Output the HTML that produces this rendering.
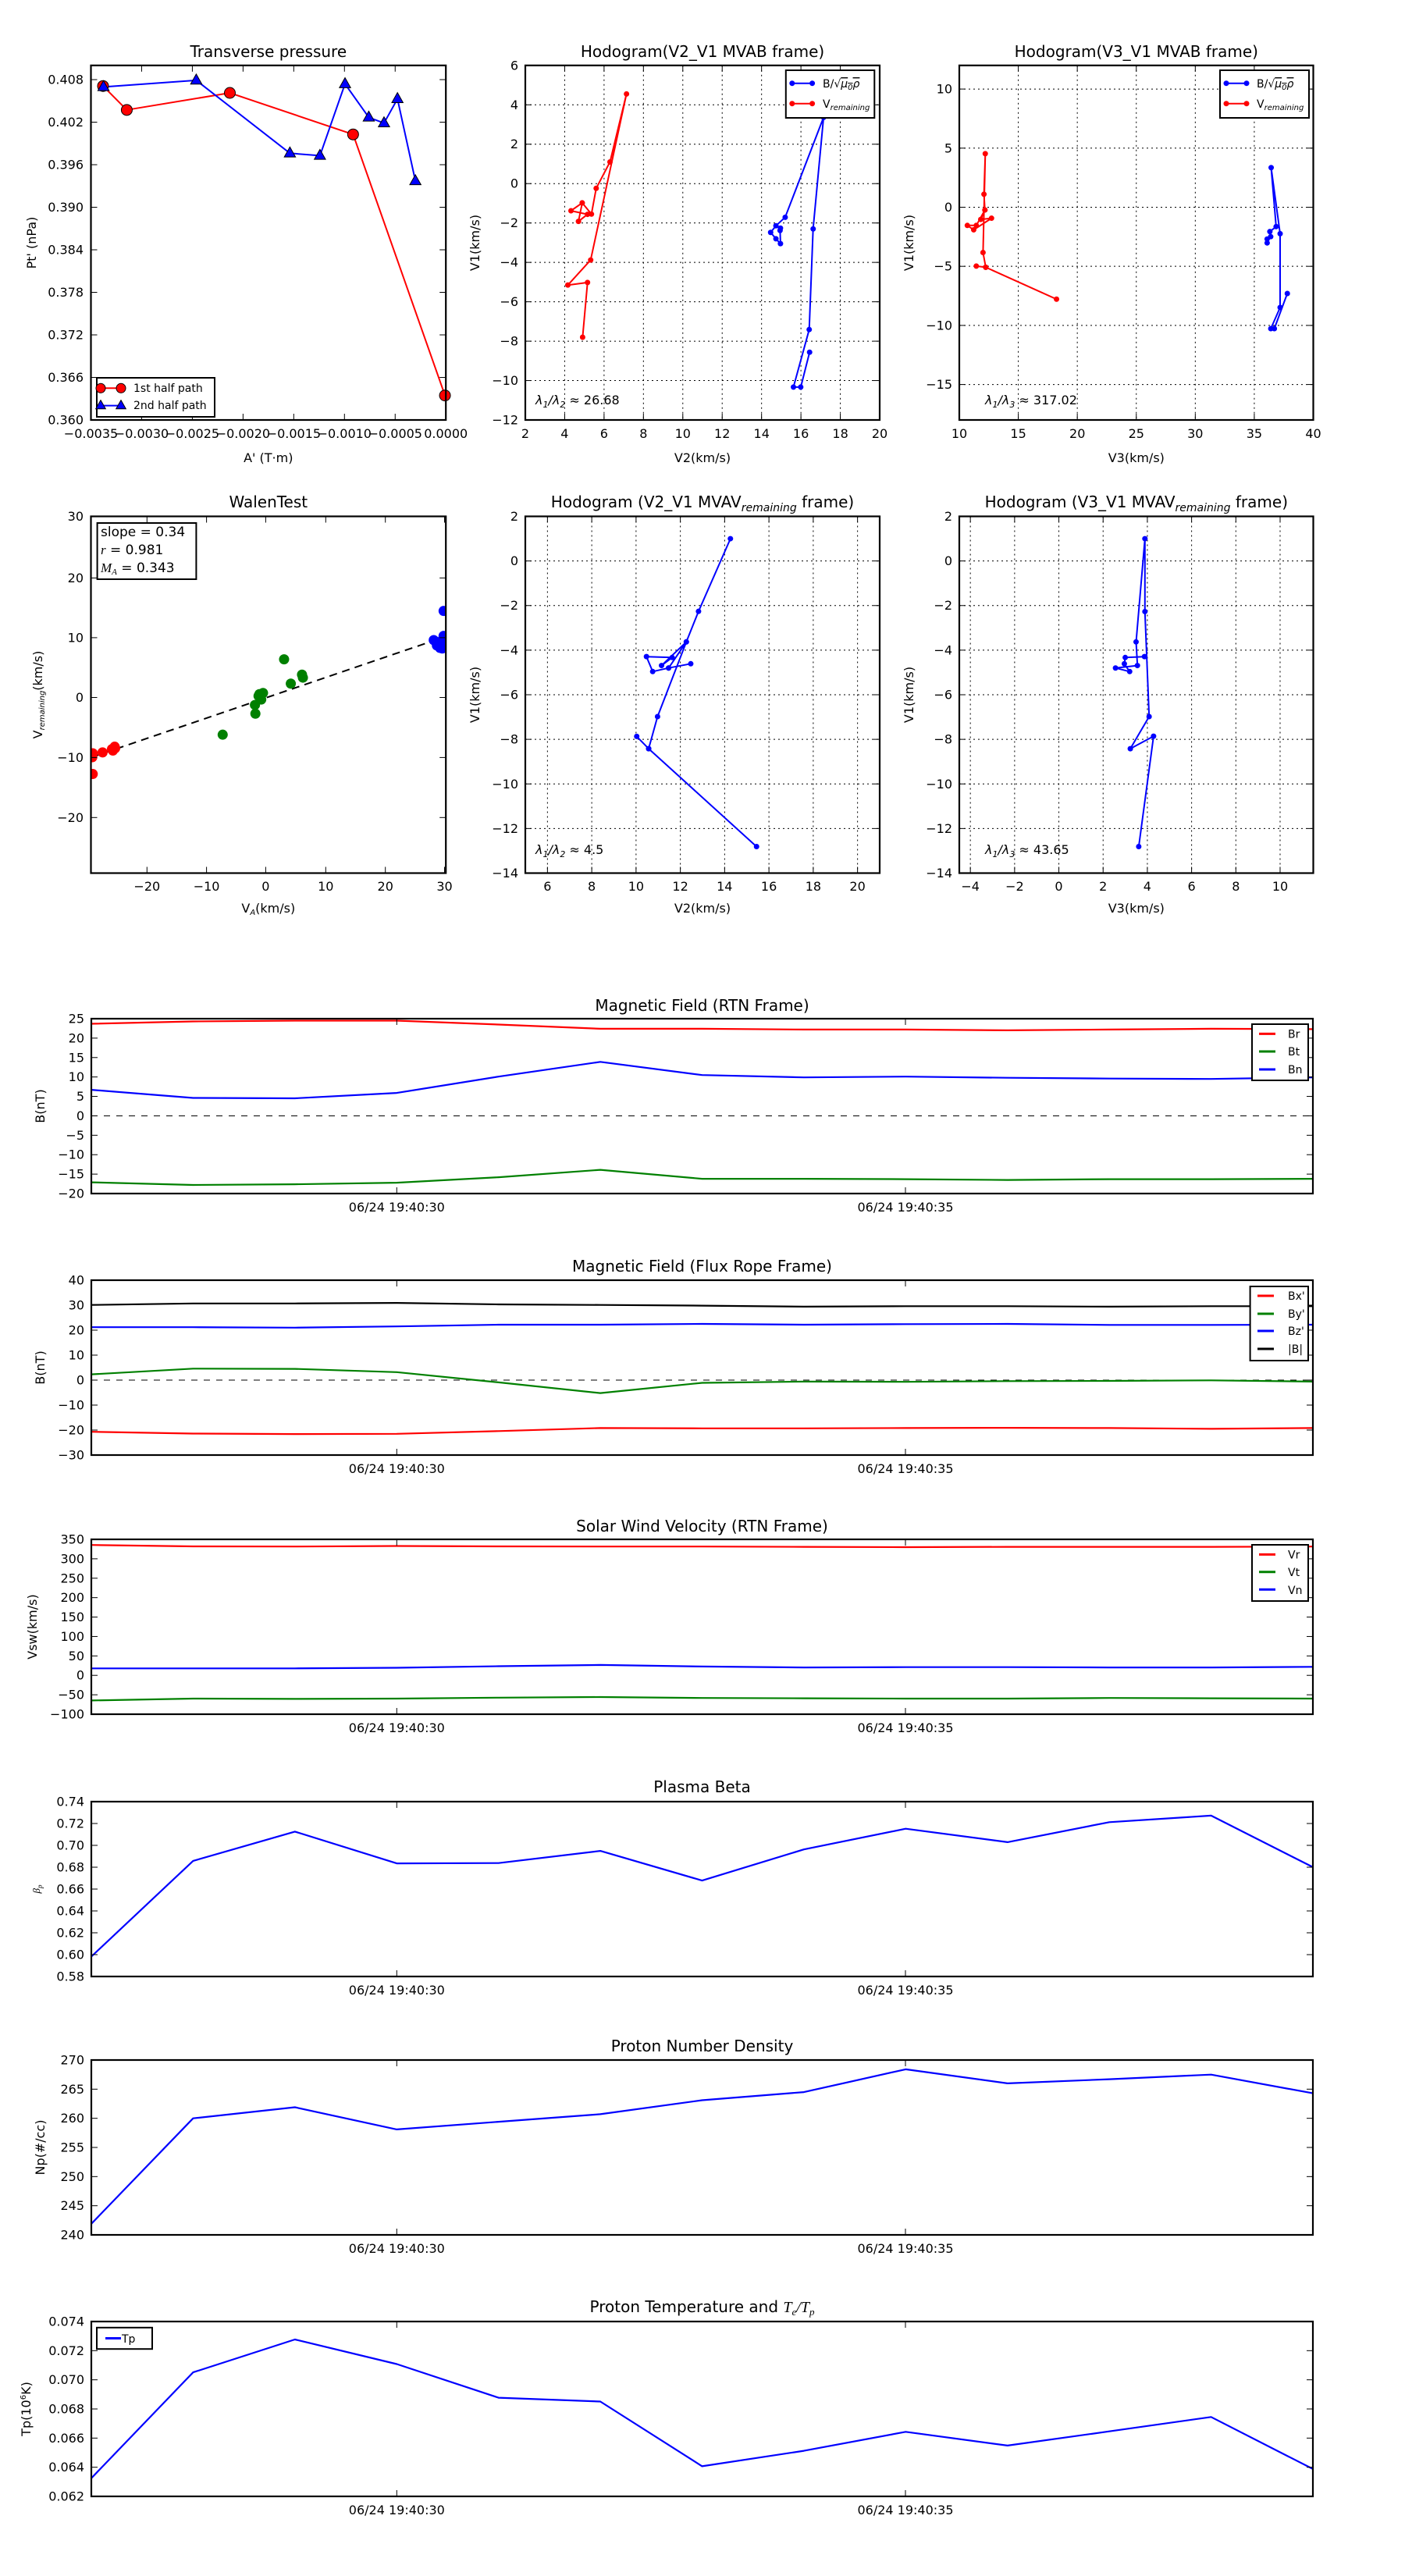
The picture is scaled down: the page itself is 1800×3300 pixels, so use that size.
<!DOCTYPE html>
<html><head><meta charset="utf-8"><style>
html,body{margin:0;padding:0;background:#fff;}
svg{display:block;font-family:"DejaVu Sans","Liberation Sans",sans-serif;}
.t{font-size:20px;text-anchor:middle;}
.l{font-size:16px;}
.e{text-anchor:end;}
.m{text-anchor:middle;}
.lg{font-size:14px;}
</style></head><body>
<svg id="s" width="1800" height="3300" viewBox="0 0 1800 3300" xmlns="http://www.w3.org/2000/svg">
<rect width="1800" height="3300" fill="#fff"/>
<g id="data"></g>

<!-- ===== Plot 1 ===== -->
<text class="t" x="343.8" y="73">Transverse pressure</text>
<g class="l e">
<text x="107" y="543.5">0.360</text><text x="107" y="489">0.366</text><text x="107" y="434.5">0.372</text>
<text x="107" y="380">0.378</text><text x="107" y="325.5">0.384</text><text x="107" y="271">0.390</text>
<text x="107" y="216.5">0.396</text><text x="107" y="162">0.402</text><text x="107" y="107.5">0.408</text>
</g>
<g class="l m">
<text x="116.5" y="561">−0.0035</text><text x="181.5" y="561">−0.0030</text><text x="246.4" y="561">−0.0025</text>
<text x="311.4" y="561">−0.0020</text><text x="376.4" y="561">−0.0015</text><text x="441.3" y="561">−0.0010</text>
<text x="506.3" y="561">−0.0005</text><text x="571.2" y="561">0.0000</text>
<text x="343.8" y="592">A' (T·m)</text>
</g>
<text class="l m" transform="translate(46,311) rotate(-90)">Pt' (nPa)</text>
<rect x="124" y="484" width="151" height="50" fill="#fff" stroke="#000" stroke-width="2"/>
<text class="lg" x="171" y="502">1st half path</text>
<text class="lg" x="171" y="524">2nd half path</text>

<!-- ===== Plot 2 ===== -->
<text class="t" x="900" y="73">Hodogram(V2_V1 MVAB frame)</text>
<g class="l e">
<text x="664" y="89.3">6</text><text x="664" y="139.8">4</text><text x="664" y="190.2">2</text><text x="664" y="240.7">0</text>
<text x="664" y="291.2">−2</text><text x="664" y="341.6">−4</text><text x="664" y="392.1">−6</text><text x="664" y="442.6">−8</text>
<text x="664" y="493">−10</text><text x="664" y="543.5">−12</text>
</g>
<g class="l m">
<text x="673" y="561">2</text><text x="723.4" y="561">4</text><text x="773.9" y="561">6</text><text x="824.3" y="561">8</text>
<text x="874.8" y="561">10</text><text x="925.2" y="561">12</text><text x="975.7" y="561">14</text><text x="1026.1" y="561">16</text>
<text x="1076.6" y="561">18</text><text x="1127" y="561">20</text>
<text x="900" y="592">V2(km/s)</text>
</g>
<text class="l m" transform="translate(614,311) rotate(-90)">V1(km/s)</text>
<text class="l" x="686" y="518" font-style="italic">λ<tspan font-size="11" dy="4">1</tspan><tspan dy="-4">/λ</tspan><tspan font-size="11" dy="4">2</tspan><tspan dy="-4" font-style="normal"> ≈ 26.68</tspan></text>
<rect x="1006.8" y="90" width="113.5" height="61" fill="#fff" stroke="#000" stroke-width="2"/>
<text class="lg" x="1054" y="112">B/√<tspan text-decoration="overline" font-style="italic">μ<tspan font-size="10" dy="3">0</tspan><tspan dy="-3">ρ</tspan></tspan></text>
<text class="lg" x="1054" y="138">V<tspan font-size="10" dy="3" font-style="italic">remaining</tspan></text>

<!-- ===== Plot 3 ===== -->
<text class="t" x="1455.8" y="73">Hodogram(V3_V1 MVAB frame)</text>
<g class="l e">
<text x="1220" y="119.6">10</text><text x="1220" y="195.3">5</text><text x="1220" y="271">0</text>
<text x="1220" y="346.7">−5</text><text x="1220" y="422.4">−10</text><text x="1220" y="498.1">−15</text>
</g>
<g class="l m">
<text x="1229" y="561">10</text><text x="1304.6" y="561">15</text><text x="1380.2" y="561">20</text><text x="1455.8" y="561">25</text>
<text x="1531.3" y="561">30</text><text x="1606.9" y="561">35</text><text x="1682.5" y="561">40</text>
<text x="1455.8" y="592">V3(km/s)</text>
</g>
<text class="l m" transform="translate(1170,311) rotate(-90)">V1(km/s)</text>
<text class="l" x="1262" y="518" font-style="italic">λ<tspan font-size="11" dy="4">1</tspan><tspan dy="-4">/λ</tspan><tspan font-size="11" dy="4">3</tspan><tspan dy="-4" font-style="normal"> ≈ 317.02</tspan></text>
<rect x="1563" y="90" width="114" height="61" fill="#fff" stroke="#000" stroke-width="2"/>
<text class="lg" x="1610" y="112">B/√<tspan text-decoration="overline" font-style="italic">μ<tspan font-size="10" dy="3">0</tspan><tspan dy="-3">ρ</tspan></tspan></text>
<text class="lg" x="1610" y="138">V<tspan font-size="10" dy="3" font-style="italic">remaining</tspan></text>

<!-- ===== Plot 4 Walen ===== -->
<text class="t" x="343.8" y="650">WalenTest</text>
<g class="l e">
<text x="107" y="667">30</text><text x="107" y="745.9">20</text><text x="107" y="822.4">10</text>
<text x="107" y="899">0</text><text x="107" y="975.9">−10</text><text x="107" y="1052.8">−20</text>
</g>
<g class="l m">
<text x="188.3" y="1141">−20</text><text x="264.6" y="1141">−10</text><text x="340.4" y="1141">0</text>
<text x="417.3" y="1141">10</text><text x="493.7" y="1141">20</text><text x="569.5" y="1141">30</text>
<text x="343.8" y="1169">V<tspan font-size="10" dy="3" font-style="italic">A</tspan><tspan dy="-3">(km/s)</tspan></text>
</g>
<text class="l m" transform="translate(54,890) rotate(-90)">V<tspan font-size="10" dy="3" font-style="italic">remaining</tspan><tspan dy="-3">(km/s)</tspan></text>
<rect x="124.6" y="670" width="126.8" height="72" fill="#fff" stroke="#000" stroke-width="2"/>
<g font-size="17px">
<text x="129" y="687">slope = 0.34</text>
<text x="129" y="710"><tspan font-style="italic" font-family="Liberation Serif, serif">r</tspan> = 0.981</text>
<text x="129" y="733"><tspan font-style="italic" font-family="Liberation Serif, serif">M<tspan font-size="11" dy="3">A</tspan></tspan><tspan dy="-3"> = 0.343</tspan></text>
</g>

<!-- ===== Plot 5 ===== -->
<text class="t" x="900" y="650">Hodogram (V2_V1 MVAV<tspan font-size="14" dy="5" font-style="italic">remaining</tspan><tspan dy="-5"> frame)</tspan></text>
<g class="l e">
<text x="664" y="667">2</text><text x="664" y="724.1">0</text><text x="664" y="781.2">−2</text><text x="664" y="838.4">−4</text>
<text x="664" y="895.5">−6</text><text x="664" y="952.6">−8</text><text x="664" y="1009.8">−10</text><text x="664" y="1066.9">−12</text>
<text x="664" y="1124">−14</text>
</g>
<g class="l m">
<text x="701.4" y="1141">6</text><text x="758.1" y="1141">8</text><text x="814.9" y="1141">10</text><text x="871.6" y="1141">12</text>
<text x="928.3" y="1141">14</text><text x="985.1" y="1141">16</text><text x="1041.9" y="1141">18</text><text x="1098.6" y="1141">20</text>
<text x="900" y="1169">V2(km/s)</text>
</g>
<text class="l m" transform="translate(614,890) rotate(-90)">V1(km/s)</text>
<text class="l" x="686" y="1094" font-style="italic">λ<tspan font-size="11" dy="4">1</tspan><tspan dy="-4">/λ</tspan><tspan font-size="11" dy="4">2</tspan><tspan dy="-4" font-style="normal"> ≈ 4.5</tspan></text>

<!-- ===== Plot 6 ===== -->
<text class="t" x="1455.8" y="650">Hodogram (V3_V1 MVAV<tspan font-size="14" dy="5" font-style="italic">remaining</tspan><tspan dy="-5"> frame)</tspan></text>
<g class="l e">
<text x="1220" y="667">2</text><text x="1220" y="724.1">0</text><text x="1220" y="781.2">−2</text><text x="1220" y="838.4">−4</text>
<text x="1220" y="895.5">−6</text><text x="1220" y="952.6">−8</text><text x="1220" y="1009.8">−10</text><text x="1220" y="1066.9">−12</text>
<text x="1220" y="1124">−14</text>
</g>
<g class="l m">
<text x="1243.2" y="1141">−4</text><text x="1299.9" y="1141">−2</text><text x="1356.5" y="1141">0</text><text x="1413.2" y="1141">2</text>
<text x="1469.9" y="1141">4</text><text x="1526.6" y="1141">6</text><text x="1583.3" y="1141">8</text><text x="1640" y="1141">10</text>
<text x="1455.8" y="1169">V3(km/s)</text>
</g>
<text class="l m" transform="translate(1170,890) rotate(-90)">V1(km/s)</text>
<text class="l" x="1262" y="1094" font-style="italic">λ<tspan font-size="11" dy="4">1</tspan><tspan dy="-4">/λ</tspan><tspan font-size="11" dy="4">3</tspan><tspan dy="-4" font-style="normal"> ≈ 43.65</tspan></text>

<!-- ===== Time panels ===== -->
<g transform="translate(117,1305)">
<text class="t" x="782.5" y="-10">Magnetic Field (RTN Frame)</text>
<g class="l e">
<text x="-9" y="5.5">25</text><text x="-9" y="30.4">20</text><text x="-9" y="55.3">15</text><text x="-9" y="80.2">10</text>
<text x="-9" y="105.1">5</text><text x="-9" y="129.9">0</text><text x="-9" y="154.8">−5</text><text x="-9" y="179.7">−10</text>
<text x="-9" y="204.6">−15</text><text x="-9" y="229.5">−20</text>
</g>
<g class="l m"><text x="391.3" y="247">06/24 19:40:30</text><text x="1043" y="247">06/24 19:40:35</text></g>
<text class="l m" transform="translate(-60,112) rotate(-90)">B(nT)</text>
<rect x="1487" y="7" width="72" height="72" fill="#fff" stroke="#000" stroke-width="2"/>
<g class="lg"><text x="1533" y="24.5">Br</text><text x="1533" y="47">Bt</text><text x="1533" y="70">Bn</text></g>
</g>
<g transform="translate(117,1640)">
<text class="t" x="782.5" y="-11">Magnetic Field (Flux Rope Frame)</text>
<g class="l e">
<text x="-9" y="5.5">40</text><text x="-9" y="37.5">30</text><text x="-9" y="69.5">20</text><text x="-9" y="101.5">10</text>
<text x="-9" y="133.5">0</text><text x="-9" y="165.5">−10</text><text x="-9" y="197.5">−20</text><text x="-9" y="229.5">−30</text>
</g>
<g class="l m"><text x="391.3" y="247">06/24 19:40:30</text><text x="1043" y="247">06/24 19:40:35</text></g>
<text class="l m" transform="translate(-60,112) rotate(-90)">B(nT)</text>
<rect x="1484.6" y="8" width="74.4" height="95" fill="#fff" stroke="#000" stroke-width="2"/>
<g class="lg"><text x="1533" y="25">Bx'</text><text x="1533" y="48">By'</text><text x="1533" y="70">Bz'</text><text x="1533" y="93">|B|</text></g>
</g>
<g transform="translate(117,1972)">
<text class="t" x="782.5" y="-10">Solar Wind Velocity (RTN Frame)</text>
<g class="l e">
<text x="-9" y="5.5">350</text><text x="-9" y="30.4">300</text><text x="-9" y="55.3">250</text><text x="-9" y="80.2">200</text>
<text x="-9" y="105.1">150</text><text x="-9" y="129.9">100</text><text x="-9" y="154.8">50</text><text x="-9" y="179.7">0</text>
<text x="-9" y="204.6">−50</text><text x="-9" y="229.5">−100</text>
</g>
<g class="l m"><text x="391.3" y="247">06/24 19:40:30</text><text x="1043" y="247">06/24 19:40:35</text></g>
<text class="l m" transform="translate(-70,112) rotate(-90)">Vsw(km/s)</text>
<rect x="1487" y="7" width="72" height="72" fill="#fff" stroke="#000" stroke-width="2"/>
<g class="lg"><text x="1533" y="24.5">Vr</text><text x="1533" y="47">Vt</text><text x="1533" y="70">Vn</text></g>
</g>
<g transform="translate(117,2308)">
<text class="t" x="782.5" y="-12">Plasma Beta</text>
<g class="l e">
<text x="-9" y="5.5">0.74</text><text x="-9" y="33.5">0.72</text><text x="-9" y="61.5">0.70</text><text x="-9" y="89.5">0.68</text>
<text x="-9" y="117.5">0.66</text><text x="-9" y="145.5">0.64</text><text x="-9" y="173.5">0.62</text><text x="-9" y="201.5">0.60</text>
<text x="-9" y="229.5">0.58</text>
</g>
<g class="l m"><text x="391.3" y="247">06/24 19:40:30</text><text x="1043" y="247">06/24 19:40:35</text></g>
<text class="m" font-size="13" font-style="italic" font-family="Liberation Serif, serif" transform="translate(-66,112) rotate(-90)">β<tspan font-size="9" dy="3">p</tspan></text>
</g>
<g transform="translate(117,2639)">
<text class="t" x="782.5" y="-11">Proton Number Density</text>
<g class="l e">
<text x="-9" y="5.5">270</text><text x="-9" y="42.8">265</text><text x="-9" y="80.2">260</text><text x="-9" y="117.5">255</text>
<text x="-9" y="154.8">250</text><text x="-9" y="192.2">245</text><text x="-9" y="229.5">240</text>
</g>
<g class="l m"><text x="391.3" y="247">06/24 19:40:30</text><text x="1043" y="247">06/24 19:40:35</text></g>
<text class="l m" transform="translate(-60,112) rotate(-90)">Np(#/cc)</text>
</g>
<g transform="translate(117,2974)">
<text class="t" x="782.5" y="-12">Proton Temperature and <tspan font-style="italic" font-family="Liberation Serif, serif">T<tspan font-size="13" dy="4">e</tspan><tspan dy="-4">/T</tspan><tspan font-size="13" dy="4">p</tspan></tspan></text>
<g class="l e">
<text x="-9" y="5.5">0.074</text><text x="-9" y="42.8">0.072</text><text x="-9" y="80.2">0.070</text><text x="-9" y="117.5">0.068</text>
<text x="-9" y="154.8">0.066</text><text x="-9" y="192.2">0.064</text><text x="-9" y="229.5">0.062</text>
</g>
<g class="l m"><text x="391.3" y="247">06/24 19:40:30</text><text x="1043" y="247">06/24 19:40:35</text></g>
<text class="l m" transform="translate(-78,112) rotate(-90)">Tp(10<tspan font-size="10" dy="-6">6</tspan><tspan dy="6">K)</tspan></text>
<rect x="7" y="7.8" width="71" height="27.4" fill="#fff" stroke="#000" stroke-width="2"/>
<text class="lg" x="39" y="27">Tp</text>
</g>
<g id="top"></g>
</svg>
<script>
(function(){
var NS="http://www.w3.org/2000/svg";var G=document.getElementById('data');
function el(n,a,p){var e=document.createElementNS(NS,n);for(var k in a)e.setAttribute(k,a[k]);(p||G).appendChild(e);return e;}
function line(pts,c,w,extra){var a={points:pts.map(function(p){return p[0].toFixed(1)+','+p[1].toFixed(1)}).join(' '),fill:'none',stroke:c,'stroke-width':w||2,'stroke-linejoin':'round'};for(var k in extra)a[k]=extra[k];return el('polyline',a);}
function dots(pts,c,r,st){pts.forEach(function(p){el('circle',{cx:p[0],cy:p[1],r:r,fill:c,stroke:st||'none','stroke-width':1});});}
function tri(pts,c,s){pts.forEach(function(p){var x=p[0],y=p[1];el('polygon',{points:(x)+','+(y-s)+' '+(x-s*0.9)+','+(y+s*0.6)+' '+(x+s*0.9)+','+(y+s*0.6),fill:c,stroke:'#000','stroke-width':1});});}
function lin(a0,a1,b0,b1){return function(v){return b0+(v-a0)/(a1-a0)*(b1-b0);};}
function box(x0,y0,x1,y1,xt,yt,grid){
  if(grid){xt.forEach(function(x){el('line',{x1:x,y1:y0,x2:x,y2:y1,stroke:'#000','stroke-width':1,'stroke-dasharray':'2,4'});});
           yt.forEach(function(y){el('line',{x1:x0,y1:y,x2:x1,y2:y,stroke:'#000','stroke-width':1,'stroke-dasharray':'2,4'});});}
}
function frame(x0,y0,x1,y1,xt,yt){
  xt.forEach(function(x){el('line',{x1:x,y1:y1,x2:x,y2:y1-8,stroke:'#000','stroke-width':1});el('line',{x1:x,y1:y0,x2:x,y2:y0+8,stroke:'#000','stroke-width':1});});
  yt.forEach(function(y){el('line',{x1:x0,y1:y,x2:x0+8,y2:y,stroke:'#000','stroke-width':1});el('line',{x1:x1,y1:y,x2:x1-8,y2:y,stroke:'#000','stroke-width':1});});
  el('rect',{x:x0,y:y0,width:x1-x0,height:y1-y0,fill:'none',stroke:'#000','stroke-width':2.2});
}
function rng(a,b,s){var r=[];for(var v=a;v<=b+1e-9;v+=s)r.push(v);return r;}
function M(a,fx,fy){return a.map(function(p){return[fx(p[0]),fy(p[1])];});}

/* Plot 1 */
var fx=lin(203,995,116.5,571.2),fy=lin(218,1405,83.8,538);
var red=[[230,287],[283,367],[513,310],[788,449],[993,1323]].map(function(p){return[fx(p[0]),fy(p[1])];});
var blu=[[231,290],[438,268],[647,512],[714,520],[770,280],[823,392],[857,411],[887,330],[927,605]].map(function(p){return[fx(p[0]),fy(p[1])];});
line(red,'#f00',2);line(blu,'#00f',2);dots(red,'#f00',7,'#000');tri(blu,'#00f',8);
frame(116.5,83.8,571.2,538,rng(0,7,1).map(function(i){return 116.5+i*64.96;}),[538,483.5,429,374.5,320,265.5,211,156.5,102]);

/* Plot 2 */
var p2x=lin(2,20,673,1127),p2y=lin(6,-12,83.8,538);
var xt2=rng(2,20,2).map(p2x),yt2=rng(-12,6,2).map(p2y);
box(673,83.8,1127,538,xt2,yt2,true);
var r2=M([[4.91,-7.8],[5.16,-5.02],[4.16,-5.15],[5.32,-3.88],[7.14,4.55],[6.3,1.1],[5.6,-0.24],[5.36,-1.55],[4.89,-0.98],[4.32,-1.38],[5.16,-1.56],[4.7,-1.92],[4.89,-0.98]],p2x,p2y);
var b2=M([[14.96,-2.26],[14.94,-2.38],[14.96,-3.05],[14.73,-2.8],[14.46,-2.48],[14.73,-2.14],[15.2,-1.71],[17.15,3.36],[16.62,-2.3],[16.42,-7.41],[15.62,-10.33],[15.99,-10.33],[16.44,-8.56]],p2x,p2y);
line(r2,'#f00',2);dots(r2,'#f00',3.5);line(b2,'#00f',2);dots(b2,'#00f',3.5);
frame(673,83.8,1127,538,xt2,yt2);

/* Plot 3 */
var p3x=lin(10,40,1229,1682.5),p3y=lin(12,-18,83.8,538);
var xt3=rng(10,40,5).map(p3x),yt3=rng(-15,10,5).map(p3y);
box(1229,83.8,1682.5,538,xt3,yt3,true);
var r3=M([[18.24,-7.78],[12.24,-5.08],[11.44,-4.98],[12.24,-5.08],[12.01,-3.83],[12.2,4.53],[12.09,1.1],[12.17,-0.23],[11.82,-1.03],[12.73,-0.93],[11.22,-1.91],[10.68,-1.54],[11.44,-1.54],[12.17,-0.23]],p3x,p3y);
var b3=M([[36.09,-3.02],[36.09,-2.69],[36.39,-2.49],[36.32,-2.06],[36.85,-1.64],[36.43,3.35],[37.19,-2.24],[37.19,-8.48],[36.4,-10.27],[36.7,-10.27],[37.8,-7.3]],p3x,p3y);
line(r3,'#f00',2);dots(r3,'#f00',3.5);line(b3,'#00f',2);dots(b3,'#00f',3.5);
frame(1229,83.8,1682.5,538,xt3,yt3);

/* Plot 4 Walen */
var wx=lin(203,995,116.5,571.2),wy=lin(160,1348,661.5,1118.5);
var cp=el('clipPath',{id:'cw'});el('rect',{x:116.5,y:661.5,width:454.7,height:457},cp);
var wg=el('g',{'clip-path':'url(#cw)'});
el('line',{x1:wx(203),y1:wy(963),x2:wx(995),y2:wy(560),stroke:'#000','stroke-width':2,'stroke-dasharray':'10,7'},wg);
function wd(a,c){a.forEach(function(p){el('circle',{cx:wx(p[0]),cy:wy(p[1]),r:6.5,fill:c},wg);});}
wd([[207,949],[206,962],[207,1018],[229,946],[250,935],[256,927],[252,940],[257,932]],'#f00');
wd([[634,636],[674,687],[676,697],[649,717],[587,748],[577,758],[583,770],[569,788],[570,817],[497,887],[579,752]],'#008000');
wd([[968,572],[990,475],[990,558],[975,590],[982,598],[987,600],[977,585],[985,575]],'#00f');
frame(116.5,661.5,571.2,1118.5,[188.3,264.6,340.4,417.3,493.7,569.5],[661.5,740.4,816.9,893.5,970.4,1047.3]);

/* Plot 5 */
var p5x=lin(5,21,673,1127),p5y=lin(2,-14,661.5,1118.5);
var xt5=rng(6,20,2).map(p5x),yt5=rng(-14,2,2).map(p5y);
box(673,661.5,1127,1118.5,xt5,yt5,true);
var b5=M([[14.26,1.0],[12.82,-2.26],[12.27,-3.63],[11.15,-4.69],[11.63,-4.33],[10.47,-4.29],[10.75,-4.96],[11.47,-4.8],[12.47,-4.61],[11.47,-4.8],[12.27,-3.63],[10.97,-6.98],[10.57,-8.42],[10.03,-7.87],[10.57,-8.42],[15.44,-12.81]],p5x,p5y);
line(b5,'#00f',2);dots(b5,'#00f',3.5);
frame(673,661.5,1127,1118.5,xt5,yt5);

/* Plot 6 */
var p6x=lin(-4.5,11.5,1229,1682.5),p6y=p5y;
var xt6=rng(-4,10,2).map(p6x),yt6=yt5;
box(1229,661.5,1682.5,1118.5,xt6,yt6,true);
var b6=M([[3.87,-4.29],[3.0,-4.33],[2.96,-4.61],[3.2,-4.96],[2.56,-4.8],[3.55,-4.69],[3.49,-3.63],[3.89,1.0],[3.89,-2.27],[4.08,-6.98],[3.23,-8.42],[4.28,-7.86],[3.61,-12.81]],p6x,p6y);
line(b6,'#00f',2);dots(b6,'#00f',3.5);
frame(1229,661.5,1682.5,1118.5,xt6,yt6);

/* Time panels */
var X0=117,W=1565,H=224,XT=[X0+391.3,X0+1043];
function panel(T,ymin,ymax,ticks,series,zero){
  var fy=lin(ymax,ymin,T,T+H);
  if(zero)el('line',{x1:X0,y1:fy(0),x2:X0+W,y2:fy(0),stroke:'#000','stroke-width':1,'stroke-dasharray':'8,8'});
  series.forEach(function(s){line(s[1].map(function(v,i){return[X0+i*W/12,fy(v)];}),s[0],2.2);});
  frame(X0,T,X0+W,T+H,XT,ticks.map(fy));
}
panel(1305,-20,25,rng(-20,25,5),[
 ['#f00',[23.7,24.3,24.5,24.5,23.5,22.4,22.4,22.2,22.2,22.0,22.2,22.4,22.3]],
 ['#008000',[-17.1,-17.8,-17.6,-17.2,-15.8,-13.9,-16.2,-16.2,-16.3,-16.5,-16.3,-16.3,-16.2]],
 ['#00f',[6.7,4.6,4.5,5.9,10.1,13.9,10.5,9.9,10.1,9.8,9.6,9.5,9.9]]],true);
panel(1640,-30,40,rng(-30,40,10),[
 ['#f00',[-20.7,-21.4,-21.6,-21.5,-20.4,-19.2,-19.3,-19.3,-19.2,-19.1,-19.2,-19.5,-19.2]],
 ['#008000',[2.3,4.6,4.5,3.2,-0.9,-5.2,-1.1,-0.6,-0.7,-0.4,-0.3,-0.1,-0.6]],
 ['#00f',[21.2,21.2,21.0,21.5,22.2,22.2,22.5,22.2,22.4,22.5,22.1,22.1,22.2]],
 ['#000',[30.1,30.7,30.7,30.9,30.3,30.1,29.8,29.4,29.6,29.6,29.4,29.6,29.6]]],true);
panel(1972,-100,350,rng(-100,350,50),[
 ['#f00',[335.6,332,331.6,333,332,331.6,331.6,330.8,330,330.8,330.8,330.8,331.6]],
 ['#008000',[-64.7,-59.9,-60.7,-59.9,-57.5,-55.9,-58.3,-59.1,-59.9,-59.9,-58.3,-59.1,-59.9]],
 ['#00f',[17.9,17.9,17.9,19.5,23.5,26.7,22.7,20.3,21.1,21.1,20.3,20.3,21.9]]],false);
panel(2308,0.58,0.74,rng(0.58,0.74,0.02),[
 ['#00f',[0.5982,0.6858,0.7126,0.6835,0.6838,0.6949,0.6678,0.6963,0.7152,0.7029,0.7212,0.7272,0.6801]]],false);
panel(2639,240,270,rng(240,270,5),[
 ['#00f',[241.9,260.0,261.9,258.1,259.4,260.7,263.1,264.5,268.4,266.0,266.7,267.5,264.3]]],false);
panel(2974,0.062,0.074,rng(0.062,0.074,0.002),[
 ['#00f',[0.06325,0.07051,0.07277,0.07108,0.06877,0.06851,0.06407,0.06513,0.06643,0.06549,0.06646,0.06745,0.06388]]],false);

/* ---- legend glyphs on top ---- */
G=document.getElementById('top');
line([[129,497.3],[155,497.3]],'#f00',2);dots([[129,497.3],[155,497.3]],'#f00',6,'#000');
line([[129,519.6],[155,519.6]],'#00f',2);tri([[129,519.6],[155,519.6]],'#00f',7);
[[1014.8,1040.6],[1571,1597]].forEach(function(l){
 line([[l[0],106.7],[l[1],106.7]],'#00f',2);dots([[l[0],106.7],[l[1],106.7]],'#00f',3.5);
 line([[l[0],132.7],[l[1],132.7]],'#f00',2);dots([[l[0],132.7],[l[1],132.7]],'#f00',3.5);});
function lgl(x0,x1,y,c){el('line',{x1:x0,y1:y,x2:x1,y2:y,stroke:c,'stroke-width':3});}
lgl(1613,1634,1324.4,'#f00');lgl(1613,1634,1347,'#008000');lgl(1613,1634,1370,'#00f');
lgl(1611,1632,1660,'#f00');lgl(1611,1632,1683,'#008000');lgl(1611,1632,1705,'#00f');lgl(1611,1632,1728,'#000');
lgl(1613,1634,1991.4,'#f00');lgl(1613,1634,2013.7,'#008000');lgl(1613,1634,2036.3,'#00f');
lgl(135,155,2995.5,'#00f');
})();
</script>
</body></html>
